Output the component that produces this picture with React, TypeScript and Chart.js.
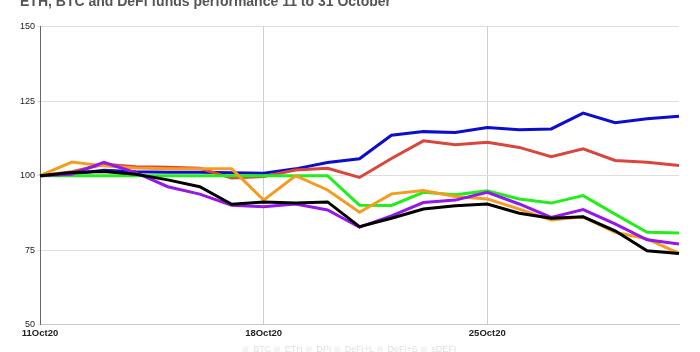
import React, { useEffect, useRef } from "react";
import { Chart, registerables } from "chart.js";

Chart.register(...registerables);

const labels = [
  "11Oct20", "12Oct20", "13Oct20", "14Oct20", "15Oct20", "16Oct20", "17Oct20",
  "18Oct20", "19Oct20", "20Oct20", "21Oct20", "22Oct20", "23Oct20", "24Oct20",
  "25Oct20", "26Oct20", "27Oct20", "28Oct20", "29Oct20", "30Oct20", "31Oct20",
];

const btc = [100, 100.6, 101.8, 101.3, 101.2, 101.2, 101, 100.8, 102.3, 104.4, 105.7, 113.6, 114.8, 114.5, 116.2, 115.4, 115.7, 121, 117.8, 119.1, 120];
const eth = [100, 101.3, 103.8, 103, 102.8, 102.5, 99.2, 99.7, 101.9, 102.5, 99.4, 105.8, 111.7, 110.4, 111.2, 109.5, 106.4, 109, 105.1, 104.5, 103.4];
const fundA = [100, 100, 100, 100, 100, 100, 100, 100, 100, 100, 90.1, 90, 94.4, 93.6, 94.9, 92.2, 90.8, 93.3, 87.1, 81, 80.8];
const fundB = [100, 104.6, 103.3, 102.6, 102.3, 102.3, 102.3, 91.8, 100, 95.2, 87.7, 93.9, 95, 93, 92.2, 88.8, 85.1, 86.2, 81, 78.8, 73.9];
const fundC = [100, 100.5, 104.5, 101, 96.3, 93.8, 90.1, 89.6, 90.5, 88.5, 82.7, 86.5, 91, 91.8, 94.4, 90.5, 86, 88.6, 83.8, 78.5, 77.1];
const fundD = [100, 101.1, 101.4, 100.5, 98.6, 96.3, 90.4, 91.2, 90.8, 91.2, 82.9, 85.7, 88.8, 89.9, 90.5, 87.4, 85.7, 86.2, 81.5, 74.8, 73.9];

const seriesNames = ["BTC", "ETH", "DPI", "DeFi+L", "DeFi+S", "sDEFI"];
const yTicks = [50, 75, 100, 125, 150];
const titleText = "ETH, BTC and DeFi funds performance 11 to 31 October";

const FONT = "'Liberation Sans', Arial, sans-serif";

export default function App() {
  const ref = useRef<HTMLCanvasElement | null>(null);

  useEffect(() => {
    if (!ref.current) return;
    const mk = (label: string, data: number[], color: string) => ({
      label,
      data,
      borderColor: color,
      backgroundColor: color,
      borderWidth: 3,
      pointRadius: 0,
      tension: 0,
      fill: false,
    });
    const chart = new Chart(ref.current, {
      type: "line",
      data: {
        labels,
        datasets: [
          mk(seriesNames[5], fundD, "#000000"),
          mk(seriesNames[4], fundC, "#9418e8"),
          mk(seriesNames[3], fundB, "#f39c1e"),
          mk(seriesNames[2], fundA, "#22ee1c"),
          mk(seriesNames[1], eth, "#d8463c"),
          mk(seriesNames[0], btc, "#0d0dcc"),
        ],
      },
      options: {
        responsive: false,
        animation: false,
        layout: { padding: { left: 20, right: 21, top: 0, bottom: 0 } },
        plugins: {
          title: {
            display: true,
            text: titleText,
            align: "start",
            color: "#555555",
            font: { family: FONT, size: 14, weight: "bold" },
            padding: { top: 2, bottom: 16 },
          },
          legend: {
            display: true,
            position: "bottom",
            reverse: true,
            labels: {
              color: "#e4e4e4",
              boxWidth: 6,
              boxHeight: 6,
              padding: 3,
              font: { family: FONT, size: 9 },
              generateLabels: (c: any) =>
                c.data.datasets.map((d: any, i: number) => ({
                  text: d.label,
                  fillStyle: "#f4f4f4",
                  strokeStyle: "#f4f4f4",
                  lineWidth: 0,
                  fontColor: "#e0e0e0",
                  datasetIndex: i,
                  hidden: false,
                })),
            },
          },
          tooltip: { enabled: false },
        },
        scales: {
          x: {
            type: "category",
            grid: {
              color: (ctx: any) => (ctx.index === 7 || ctx.index === 14 ? "#cfcfcf" : "rgba(0,0,0,0)"),
              drawTicks: false,
              lineWidth: 1,
            },
            border: { display: true, color: "#c8c8c8" },
            ticks: {
              autoSkip: false,
              maxRotation: 0,
              padding: 3,
              color: "#222222",
              font: { family: FONT, size: 9.5, weight: "bold" },
              callback: (_v: any, i: number) => (i % 7 === 0 ? labels[i] : ""),
            },
          },
          y: {
            min: 50,
            max: 150,
            afterFit: (s: any) => {
              s.width = 20;
            },
            afterBuildTicks: (s: any) => {
              s.ticks = yTicks.map((v) => ({ value: v }));
            },
            grid: { color: "#dedede", drawTicks: true, tickLength: 3 },
            border: { display: true, color: "#666666" },
            ticks: {
              padding: 2,
              color: "#222222",
              font: { family: FONT, size: 9 },
            },
          },
        },
      },
    });
    return () => chart.destroy();
  }, []);

  return (
    <div style={{ position: "fixed", left: 0, top: -8, width: 700, height: 372 }}>
      <canvas ref={ref} width={700} height={372} style={{ display: "block" }} />
    </div>
  );
}
